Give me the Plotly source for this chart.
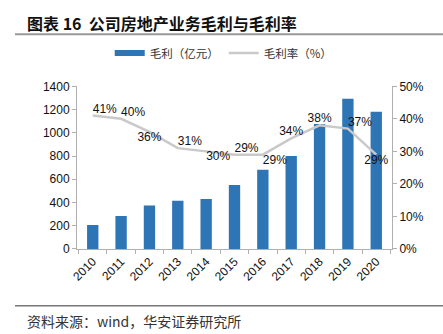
import plotly.graph_objects as go

years = ["2010", "2011", "2012", "2013", "2014", "2015", "2016", "2017", "2018", "2019", "2020"]
gross_profit = [207, 284, 375, 416, 430, 550, 682, 800, 1076, 1292, 1180]
gross_margin = [41, 40, 36, 31, 30, 29, 29, 34, 38, 37, 29]
label_pos = ["top right", "top right", "bottom center", "top right", "bottom right",
             "top right", "bottom right", "top center", "top center", "top right", "bottom center"]

BAR_COLOR = "#2e75b6"
LINE_COLOR = "#c9c9c9"

fig = go.Figure()
fig.add_trace(go.Bar(
    x=years, y=gross_profit, name="毛利（亿元）",
    marker=dict(color=BAR_COLOR, line=dict(width=0)),
    yaxis="y", showlegend=False,
))
# legend proxy for bars (wide rectangle look)
fig.add_trace(go.Scatter(
    x=[None], y=[None], name="毛利（亿元）", mode="lines",
    line=dict(color=BAR_COLOR, width=6), yaxis="y",
))
fig.add_trace(go.Scatter(
    x=years, y=gross_margin, name="毛利率（%）", mode="lines+text",
    line=dict(color=LINE_COLOR, width=2.5),
    text=[f"{v}%" for v in gross_margin], textposition=label_pos,
    textfont=dict(family="Liberation Sans, Arial", size=12, color="#111"),
    yaxis="y2", cliponaxis=False,
))

axis_font = dict(family="Liberation Sans, Arial", size=12, color="#111")
fig.update_layout(
    width=443, height=334,
    margin=dict(l=77, r=51, t=83, b=85),
    paper_bgcolor="white", plot_bgcolor="white",
    bargap=0.6,
    showlegend=True,
    legend=dict(orientation="h", x=0.505, xanchor="center", xref="container",
                y=1 - 53 / 334, yref="container", yanchor="middle",
                font=dict(family="Noto Sans CJK SC", size=11.5, color="#333"),
                tracegroupgap=0),
    xaxis=dict(type="category", tickangle=-45, tickfont=axis_font,
               showline=True, linecolor="#b0b0b0", linewidth=1,
               ticks="outside", tickcolor="#b0b0b0", ticklen=4, tickson="boundaries",
               showgrid=False),
    yaxis=dict(range=[0, 1400], dtick=200, tickfont=axis_font,
               showline=True, linecolor="#b0b0b0", linewidth=1,
               ticks="outside", tickcolor="#b0b0b0", ticklen=4,
               showgrid=False, zeroline=False),
    yaxis2=dict(range=[0, 50], dtick=10, ticksuffix="%", tickfont=axis_font,
                overlaying="y", side="right",
                showline=True, linecolor="#b0b0b0", linewidth=1,
                ticks="outside", tickcolor="#b0b0b0", ticklen=4,
                showgrid=False, zeroline=False),
)

fig.add_annotation(text="<b>图表 16  公司房地产业务毛利与毛利率</b>", xref="paper", yref="paper",
                   x=-77 / 315 + 25 / 315, y=1 + (83 - 18) / 166, xanchor="left", yanchor="middle",
                   showarrow=False, font=dict(family="Noto Sans CJK SC", size=16, color="#111"))
fig.add_annotation(text="资料来源：wind，华安证券研究所", xref="paper", yref="paper",
                   x=-77 / 315 + 25 / 315, y=-(322 - 249) / 166, xanchor="left", yanchor="middle",
                   showarrow=False, font=dict(family="Noto Sans CJK SC", size=14, color="#333"))
fig.add_shape(type="line", xref="paper", yref="paper",
              x0=-77 / 315 + 15 / 315, x1=1 + 51 / 315, y0=1 + (83 - 30) / 166, y1=1 + (83 - 30) / 166,
              line=dict(color="#999", width=2))
fig.add_shape(type="line", xref="paper", yref="paper",
              x0=-77 / 315 + 15 / 315, x1=1 + 51 / 315, y0=-(307 - 249) / 166, y1=-(307 - 249) / 166,
              line=dict(color="#333", width=1))

fig.write_html("out.html")
